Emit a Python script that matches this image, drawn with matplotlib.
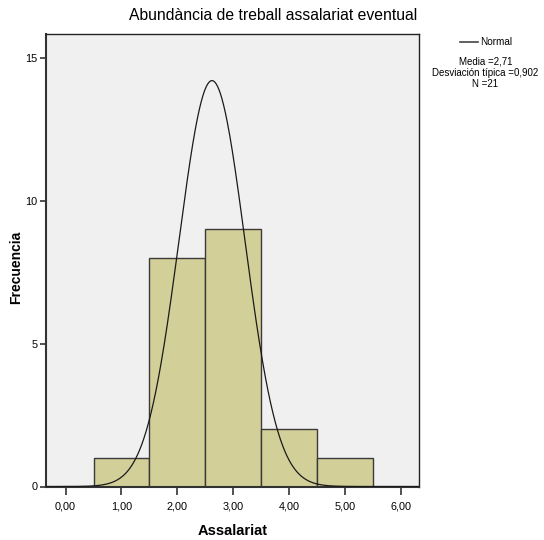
import numpy as np
import matplotlib
matplotlib.use("Agg")
import matplotlib.pyplot as plt

plt.rcParams['font.family'] = ['Liberation Sans', 'DejaVu Sans']

# Data
bin_centers = [1, 2, 3, 4, 5]
counts = [1, 8, 9, 2, 1]
bin_width = 1.0
x_ticks = [0, 1, 2, 3, 4, 5, 6]
x_tick_labels = ["0,00", "1,00", "2,00", "3,00", "4,00", "5,00", "6,00"]
y_ticks = [0, 5, 10, 15]
n_total = 21
curve_mean = 2.62
curve_sd = 0.59
stats_text = ["Media =2,71", "Desviación típica =0,902", "N =21"]

fig = plt.figure(figsize=(5.44, 5.40), dpi=100)
ax = fig.add_axes([46/544, 1-486.5/540, (419.3-46)/544, (486.5-34)/540])
ax.set_facecolor('#F0F0F0')

ax.bar(bin_centers, counts, width=bin_width, color='#D3CF98',
       edgecolor='#3a3a3a', linewidth=1.0, zorder=2)

xs = np.linspace(-0.35, 6.35, 600)
ys = n_total * bin_width / (curve_sd * np.sqrt(2*np.pi)) * np.exp(-0.5*((xs-curve_mean)/curve_sd)**2)
ax.plot(xs, ys, color='#1a1a1a', linewidth=0.9, zorder=3)

ax.set_xlim(-0.35, 6.33)
ax.set_ylim(0, 15.83)
ax.set_xticks(x_ticks)
ax.set_xticklabels(x_tick_labels)
ax.set_yticks(y_ticks)
ax.tick_params(axis='both', direction='out', length=4, width=1.2, color='#333333',
               labelsize=7.8, pad=2)
ax.tick_params(axis='x', length=6, pad=5)
for s in ['left', 'bottom']:
    ax.spines[s].set_linewidth(1.5)
    ax.spines[s].set_color('#333333')
for s in ['top', 'right']:
    ax.spines[s].set_linewidth(1.0)
    ax.spines[s].set_color('#222222')

ax.set_xlabel('Assalariat', fontsize=10.5, fontweight='bold')
ax.xaxis.set_label_coords(0.5, -0.083)
ax.set_ylabel('Frecuencia', fontsize=10, fontweight='bold')
ax.yaxis.set_label_coords(-0.06, 0.485)
fig.text(273/544, 1-16/540, 'Abundància de treball assalariat eventual',
         ha='center', va='center', fontsize=11.3)

# Legend
fig.add_artist(plt.Line2D([460/544, 478/544], [1-42/540, 1-42/540],
                          color='#444444', linewidth=1.2, transform=fig.transFigure))
fig.text(480/544, 1-42/540, 'Normal', ha='left', va='center', fontsize=7.2)
for i, t in enumerate(stats_text):
    fig.text(485.5/544, 1-(62+11*i)/540, t, ha='center', va='center', fontsize=7.0)

fig.savefig('out.png', dpi=100, facecolor='white')
